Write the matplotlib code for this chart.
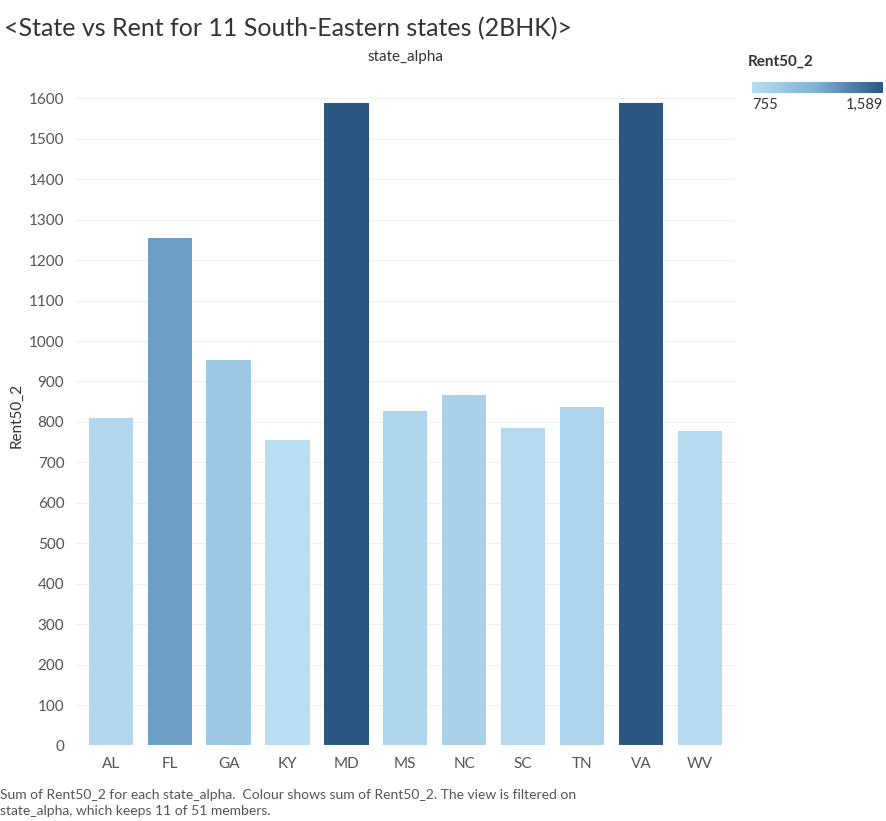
import numpy as np
import matplotlib.pyplot as plt
from matplotlib.colors import LinearSegmentedColormap, Normalize

states = ["AL", "FL", "GA", "KY", "MD", "MS", "NC", "SC", "TN", "VA", "WV"]
rent = [809, 1254, 953, 755, 1589, 827, 866, 785, 837, 1589, 777]
yticks = list(range(0, 1700, 100))

plt.rcParams["font.family"] = ["Lato", "DejaVu Sans"]
cmap = LinearSegmentedColormap.from_list("tab_blue", ["#b9ddf1", "#7eb0d5", "#2a5783"])
norm = Normalize(min(rent), max(rent))

fig = plt.figure(figsize=(8.87, 8.21), dpi=100)
ax = fig.add_axes([0.085, 0.092, 0.744, 0.804])
x = np.arange(len(states))
ax.bar(x, rent, width=0.75, color=cmap(norm(np.array(rent))), zorder=2)
ax.set_xlim(-0.6, len(states) - 0.4)
ax.set_ylim(0, 1632)
ax.set_yticks(yticks)
ax.set_yticklabels([str(v) for v in yticks], color="#555555", fontsize=11)
ax.set_xticks(x)
ax.set_xticklabels(states, color="#555555", fontsize=11)
ax.tick_params(length=0, pad=8)
ax.grid(axis="y", color="#f0f0f0", lw=0.8, zorder=0)
for s in ax.spines.values():
    s.set_visible(False)
ax.axhline(0, color="#dddddd", lw=0.8)
ax.set_ylabel("Rent50_2", fontsize=11, color="#333333")
fig.text(0.457, 0.926, "state_alpha", ha="center", fontsize=11, color="#333333")

fig.text(0.005, 0.965, "<State vs Rent for 11 South-Eastern states (2BHK)>",
         fontsize=18, color="#333333", va="center")
fig.text(0.0, 0.005, "Sum of Rent50_2 for each state_alpha.  Colour shows sum of Rent50_2. "
         "The view is filtered on\nstate_alpha, which keeps 11 of 51 members.",
         fontsize=10, color="#555555", va="bottom", linespacing=1.4)

# colour legend
fig.text(0.843, 0.92, "Rent50_2", fontsize=11, color="#333333", fontweight="bold")
cax = fig.add_axes([0.848, 0.887, 0.147, 0.013])
cax.imshow(np.linspace(0, 1, 256)[None, :], aspect="auto", cmap=cmap)
cax.set_axis_off()
fig.text(0.848, 0.872, f"{min(rent)}", fontsize=10.5, color="#333333", va="center")
fig.text(0.995, 0.872, f"{max(rent):,}", fontsize=10.5, color="#333333", va="center", ha="right")

fig.savefig("out.png", dpi=100)
